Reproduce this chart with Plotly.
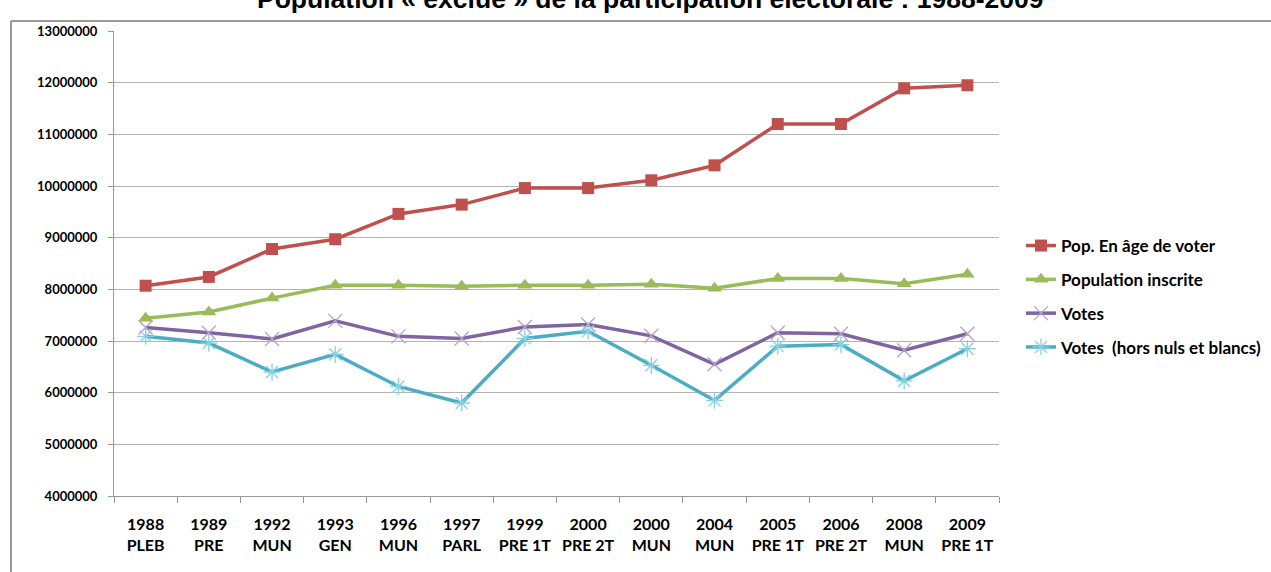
import plotly.graph_objects as go

# Scrutins (année + type d'élection)
categories = [
    "1988<br>PLEB", "1989<br>PRE", "1992<br>MUN", "1993<br>GEN", "1996<br>MUN",
    "1997<br>PARL", "1999<br>PRE 1T", "2000<br>PRE 2T", "2000<br>MUN", "2004<br>MUN",
    "2005<br>PRE 1T", "2006<br>PRE 2T", "2008<br>MUN", "2009<br>PRE 1T",
]

pop_age_voter = [8070000, 8240000, 8780000, 8970000, 9460000, 9640000, 9960000,
                 9960000, 10110000, 10400000, 11200000, 11200000, 11890000, 11950000]
pop_inscrite = [7440000, 7560000, 7830000, 8080000, 8080000, 8060000, 8080000,
                8080000, 8100000, 8020000, 8210000, 8210000, 8110000, 8290000]
votes = [7260000, 7160000, 7040000, 7390000, 7090000, 7050000, 7270000,
         7320000, 7100000, 6550000, 7160000, 7140000, 6820000, 7140000]
votes_exprimes = [7090000, 6960000, 6400000, 6740000, 6120000, 5800000, 7050000,
                  7190000, 6530000, 5850000, 6900000, 6930000, 6230000, 6850000]

y_ticks = list(range(4000000, 13000001, 1000000))

W, H = 1271, 572
ML, MR, MT, MB = 114, 272, 31, 76
PW, PH = W - ML - MR, H - MT - MB


def px_x(x):
    return (x - ML) / PW


def px_y(y):
    return (H - MB - y) / PH


FONT = "Lato"

fig = go.Figure()

fig.add_trace(go.Scatter(
    x=categories, y=pop_age_voter, name="Pop. En âge de voter", mode="lines+markers",
    line=dict(color="#C0504D", width=3.5),
    marker=dict(symbol="square", size=12, color="#C0504D"),
    legendgroup="a",
))
fig.add_trace(go.Scatter(
    x=categories, y=pop_inscrite, name="Population inscrite", mode="lines+markers",
    line=dict(color="#9BBB59", width=3.5),
    marker=dict(symbol="triangle-up", size=13, color="#9BBB59"),
    legendgroup="b",
))
fig.add_trace(go.Scatter(
    x=categories, y=votes, name="Votes", mode="lines+markers",
    line=dict(color="#8064A2", width=3.5),
    marker=dict(symbol="x-thin", size=14, color="#B5A3CC",
                line=dict(color="#B5A3CC", width=1.3)),
    legendgroup="c",
))
fig.add_trace(go.Scatter(
    x=categories, y=votes_exprimes, name="Votes  (hors nuls et blancs)", mode="lines+markers",
    line=dict(color="#4BACC6", width=3.5),
    marker=dict(symbol="asterisk", size=14, color="#86D0E2",
                line=dict(color="#86D0E2", width=1.3)),
    legendgroup="d",
))

fig.update_layout(
    width=W, height=H,
    margin=dict(l=ML, r=MR, t=MT, b=MB, autoexpand=False),
    paper_bgcolor="white", plot_bgcolor="white",
    font=dict(family=FONT, color="#000000"),
    showlegend=True,
    legend=dict(
        x=px_x(1021), y=px_y(228), xanchor="left", yanchor="top",
        font=dict(family=FONT, size=17, color="#000000", weight="bold"),
        tracegroupgap=8.7, bgcolor="rgba(0,0,0,0)",
        itemwidth=30,
    ),
    xaxis=dict(
        type="category", showgrid=False, automargin=False,
        range=[-0.5, len(categories) - 0.5],
        showline=True, linecolor="#999999", linewidth=1,
        ticks="outside", tickson="boundaries", ticklen=6, tickcolor="#999999",
        tickangle=0,
        tickfont=dict(family=FONT, size=16, color="#000000", weight="bold"),
        ticklabelstandoff=14,
    ),
    yaxis=dict(
        range=[4000000, 13000000], tickvals=y_ticks, tickformat=".0f",
        automargin=False,
        showgrid=True, gridcolor="#B3B3B3", gridwidth=1,
        showline=True, linecolor="#999999", linewidth=1,
        ticks="outside", ticklen=5, tickcolor="#999999",
        tickfont=dict(family=FONT, size=13, color="#000000", weight="bold"),
        ticklabelstandoff=8, zeroline=False,
    ),
    annotations=[dict(
        text="Population « exclue » de la participation électorale : 1988-2009",
        xref="paper", yref="paper", x=px_x(650), y=px_y(16),
        xanchor="center", yanchor="bottom", showarrow=False,
        font=dict(family="Liberation Sans", size=26.5, color="#000000", weight="bold"),
    )],
    shapes=[
        dict(type="line", xref="paper", yref="paper",
             x0=px_x(11), x1=px_x(W + 5), y0=px_y(21), y1=px_y(21),
             line=dict(color="#9A9A9A", width=2)),
        dict(type="line", xref="paper", yref="paper",
             x0=px_x(11), x1=px_x(11), y0=px_y(21), y1=px_y(H + 5),
             line=dict(color="#9A9A9A", width=2)),
    ],
)

fig.write_html("out.html")
